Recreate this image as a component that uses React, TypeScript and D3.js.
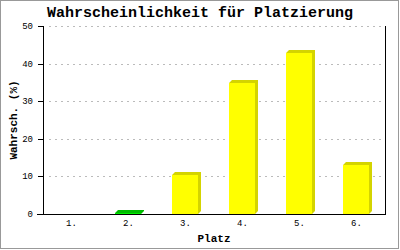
import React from "react";
import * as d3 from "d3";

const categories = ["1.", "2.", "3.", "4.", "5.", "6."];
const values = [0, 0.3, 10.4, 34.8, 42.7, 12.9];
const barColors = ["#ffff00", "#00ee00", "#ffff00", "#ffff00", "#ffff00", "#ffff00"];
const sideColors = ["#d4d400", "#00bb00", "#d4d400", "#d4d400", "#d4d400", "#d4d400"];
const yTicks = [0, 10, 20, 30, 40, 50];
const title = "Wahrscheinlichkeit für Platzierung";
const xTitle = "Platz";
const yTitle = "Wahrsch. (%)";

export default function App() {
  const W = 400, H = 250;
  const left = 43, right = 385, top = 26, bottom = 214;
  const x = d3.scaleBand<string>().domain(categories).range([left, right]).paddingInner(0.54).paddingOuter(0.27);
  const y = d3.scaleLinear().domain([0, 50]).range([bottom, top]);
  const depth = 3;
  const mono = "'Liberation Mono', 'DejaVu Sans Mono', monospace";
  return (
    <svg width={W} height={H} style={{ position: "absolute", left: 0, top: 0, background: "#fff" }}>
      <rect x={0.5} y={0.5} width={398} height={248} fill="#fff" stroke="#999" />
      <text x={200} y={17} textAnchor="middle" fontFamily={mono} fontWeight="bold" fontSize={15}>{title}</text>
      {yTicks.filter((t) => t > 0).map((t) => (
        <line key={"g" + t} x1={49} x2={383} y1={Math.round(y(t)) + 0.5} y2={Math.round(y(t)) + 0.5} stroke="#bbb" strokeDasharray="2,4" />
      ))}
      {categories.map((c, i) => {
        const x0 = Math.round(x(c)!);
        const bw = Math.round(x.bandwidth());
        const yv = Math.round(y(values[i]));
        const h = bottom - yv;
        if (values[i] <= 0) return null;
        return (
          <g key={c}>
            <polygon points={`${x0},${yv} ${x0 + depth},${yv - depth} ${x0 + bw + depth},${yv - depth} ${x0 + bw + depth},${bottom - depth} ${x0 + bw},${bottom} ${x0 + bw},${yv}`} fill={sideColors[i]} />
            <rect x={x0} y={yv} width={bw} height={h} fill={barColors[i]} />
          </g>
        );
      })}
      <line x1={left + 0.5} x2={left + 0.5} y1={top} y2={bottom} stroke="#000" />
      <line x1={right + 0.5} x2={right + 0.5} y1={top} y2={bottom} stroke="#000" />
      <line x1={37} x2={right + 1} y1={bottom + 0.5} y2={bottom + 0.5} stroke="#000" />
      {yTicks.map((t) => (
        <g key={"t" + t}>
          <line x1={38} x2={left} y1={Math.round(y(t)) + 0.5} y2={Math.round(y(t)) + 0.5} stroke="#000" />
          <text x={33} y={Math.round(y(t)) + 3} textAnchor="end" fontFamily={mono} fontSize={9}>{t}</text>
        </g>
      ))}
      {categories.map((c) => (
        <text key={"x" + c} x={x(c)! + x.bandwidth() / 2} y={226} textAnchor="middle" fontFamily={mono} fontSize={9}>{c}</text>
      ))}
      <text x={214} y={242} textAnchor="middle" fontFamily={mono} fontWeight="bold" fontSize={11}>{xTitle}</text>
      <text transform={`translate(17,120) rotate(-90)`} textAnchor="middle" fontFamily={mono} fontWeight="bold" fontSize={11}>{yTitle}</text>
    </svg>
  );
}
